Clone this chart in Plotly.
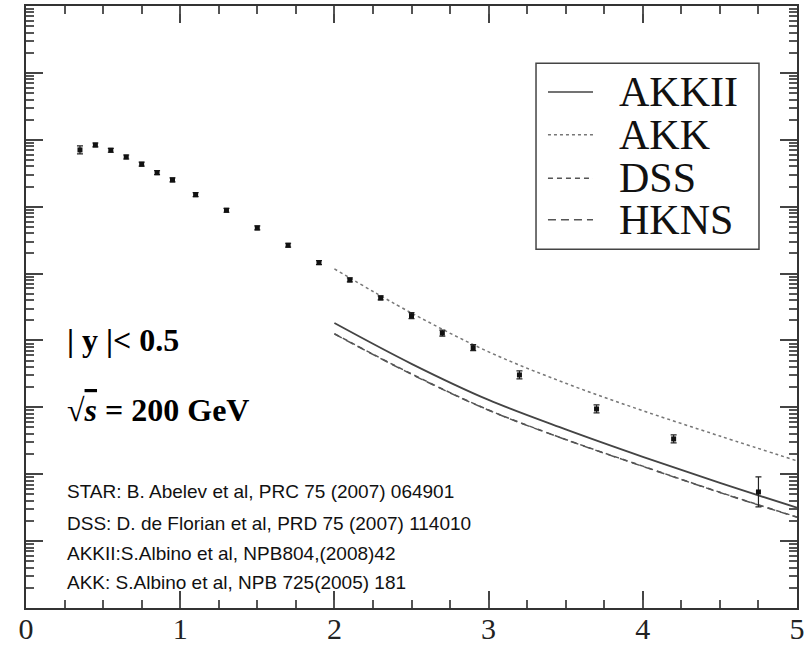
import plotly.graph_objects as go

# STAR measurement (pT in GeV/c, invariant yield)
pt = [0.35, 0.45, 0.55, 0.65, 0.75, 0.85, 0.95, 1.1, 1.3, 1.5, 1.7, 1.9,
      2.1, 2.3, 2.5, 2.7, 2.9, 3.2, 3.7, 4.2, 4.75]
yld = [7.05e-2, 8.36e-2, 6.97e-2, 5.53e-2, 4.31e-2, 3.22e-2, 2.51e-2, 1.51e-2,
       8.83e-3, 4.81e-3, 2.65e-3, 1.46e-3, 8.02e-4, 4.32e-4, 2.35e-4, 1.29e-4,
       7.80e-5, 3.05e-5, 9.46e-6, 3.37e-6, 5.43e-7]
err_up = [1.04e-2, 5.9e-3, 4.9e-3, 3.9e-3, 3.1e-3, 2.3e-3, 1.8e-3, 1.1e-3,
          6.3e-4, 3.4e-4, 1.9e-4, 1.0e-4, 5.7e-5, 3.1e-5, 2.6e-5, 1.4e-5,
          8.5e-6, 4.5e-6, 1.40e-6, 5.0e-7, 3.69e-7]
err_dn = [9.1e-3, 5.5e-3, 4.6e-3, 3.7e-3, 2.8e-3, 2.1e-3, 1.7e-3, 1.0e-3,
          5.8e-4, 3.2e-4, 1.7e-4, 1.0e-4, 5.3e-5, 2.9e-5, 2.3e-5, 1.3e-5,
          7.6e-6, 3.9e-6, 1.22e-6, 4.3e-7, 2.19e-7]

# NLO pQCD predictions with different fragmentation functions
pt_calc = [2.0, 2.5, 3.0, 3.5, 4.0, 4.5, 5.0]
akkii = [1.82e-4, 4.47e-5, 1.29e-5, 4.68e-6, 1.82e-6, 7.41e-7, 3.16e-7]
akk = [1.175e-3, 2.57e-4, 6.76e-5, 2.29e-5, 8.91e-6, 3.72e-6, 1.585e-6]
dss = [1.26e-4, 3.16e-5, 9.12e-6, 3.31e-6, 1.32e-6, 5.37e-7, 2.29e-7]
hkns = [1.25e-4, 3.12e-5, 9.05e-6, 3.29e-6, 1.31e-6, 5.33e-7, 2.27e-7]

x_ticks = [0, 1, 2, 3, 4, 5]
x_minor = [q / 4 for q in range(0, 21)]
y_decades = list(range(-8, 2))
y_major = [10.0 ** e for e in y_decades]
y_minor = [m * 10.0 ** e for e in y_decades[:-1] for m in range(2, 10)]

legend_names = ["AKKII", "AKK", "DSS", "HKNS"]
legend_dash = ["solid", "dot", "5px,4px", "8px,5px"]
legend_color = ["#444444", "#777777", "#555555", "#555555"]

refs = [
    "STAR: B. Abelev et al, PRC 75 (2007) 064901",
    "DSS: D. de Florian et al, PRD 75 (2007) 114010",
    "AKKII:S.Albino et al, NPB804,(2008)42",
    "AKK: S.Albino et al, NPB 725(2005) 181",
]

fig = go.Figure()

curves = [akkii, akk, dss, hkns]
widths = [1.8, 1.5, 1.5, 1.5]
for name, vals, dash, col, w in zip(legend_names, curves, legend_dash, legend_color, widths):
    fig.add_trace(go.Scatter(
        x=pt_calc, y=vals, mode="lines", name=name,
        line=dict(color=col, width=w, dash=dash, shape="spline"),
        showlegend=False,
    ))

# data on the overlay axes (same ranges), which carry the short ticks
fig.add_trace(go.Scatter(
    x=pt, y=yld, mode="markers", name="STAR", xaxis="x2", yaxis="y2",
    marker=dict(symbol="square", size=5, color="#111111"),
    error_y=dict(type="data", symmetric=False, array=err_up, arrayminus=err_dn,
                 color="#222222", thickness=1.2, width=3),
    showlegend=False,
))

# hand-built legend box
shapes = [dict(type="rect", xref="paper", yref="paper",
               x0=0.6615, x1=0.9507, y0=0.596, y1=0.905,
               line=dict(color="#444444", width=1.5))]
annotations = []
leg_y = [0.857, 0.786, 0.714, 0.645]
for name, dash, col, yy in zip(legend_names, legend_dash, legend_color, leg_y):
    shapes.append(dict(type="line", xref="paper", yref="paper",
                       x0=0.677, x1=0.7354, y0=yy, y1=yy,
                       line=dict(color=col, width=1.5, dash=dash)))
    annotations.append(dict(text=name, xref="paper", yref="paper",
                            x=0.7665, y=yy, xanchor="left", yanchor="middle",
                            showarrow=False,
                            font=dict(family="Liberation Serif", size=42, color="#111111")))

annotations.append(dict(text="<b>| y |< 0.5</b>", xref="paper", yref="paper",
                        x=0.0506, y=0.445, xanchor="left", yanchor="middle",
                        showarrow=False,
                        font=dict(family="Liberation Serif", size=32, color="#000000")))
annotations.append(dict(text="<b>√<span style='text-decoration:overline'><i>s</i></span> = 200 GeV</b>",
                        xref="paper", yref="paper",
                        x=0.0506, y=0.329, xanchor="left", yanchor="middle",
                        showarrow=False,
                        font=dict(family="Liberation Serif", size=32, color="#000000")))

ref_y = [0.193, 0.141, 0.091, 0.042]
for txt, yy in zip(refs, ref_y):
    annotations.append(dict(text=txt, xref="paper", yref="paper",
                            x=0.0506, y=yy, xanchor="left", yanchor="middle",
                            showarrow=False,
                            font=dict(family="Liberation Sans", size=19, color="#111111")))

fig.update_layout(
    width=807, height=646,
    margin=dict(l=26, r=10, t=6, b=38, autoexpand=False),
    paper_bgcolor="white", plot_bgcolor="white",
    shapes=shapes, annotations=annotations,
)

axis_common = dict(showgrid=False, zeroline=False, automargin=False)

fig.update_layout(
    xaxis=dict(
        range=[0, 5], tickvals=x_ticks, ticktext=[str(v) for v in x_ticks],
        showline=True, linecolor="#333333", linewidth=2, mirror="ticks",
        ticks="inside", ticklen=17, tickwidth=2, tickcolor="#444444",
        tickfont=dict(family="Liberation Serif", size=30, color="#222222"),
        ticklabelstandoff=-7, **axis_common,
    ),
    xaxis2=dict(
        range=[0, 5], overlaying="x", side="bottom", anchor="y2",
        tickvals=x_minor, showticklabels=False,
        showline=False, mirror="ticks",
        ticks="inside", ticklen=8, tickwidth=1.5, tickcolor="#555555",
        **axis_common,
    ),
    yaxis=dict(
        type="log", range=[-8, 1], tickvals=y_major, showticklabels=False,
        showline=True, linecolor="#333333", linewidth=2, mirror="ticks",
        ticks="inside", ticklen=17, tickwidth=2, tickcolor="#444444",
        **axis_common,
    ),
    yaxis2=dict(
        type="log", range=[-8, 1], overlaying="y", side="left", anchor="x2",
        tickvals=y_minor, showticklabels=False,
        showline=False, mirror="ticks",
        ticks="inside", ticklen=8, tickwidth=1.5, tickcolor="#555555",
        **axis_common,
    ),
)

fig.write_html("out.html")
